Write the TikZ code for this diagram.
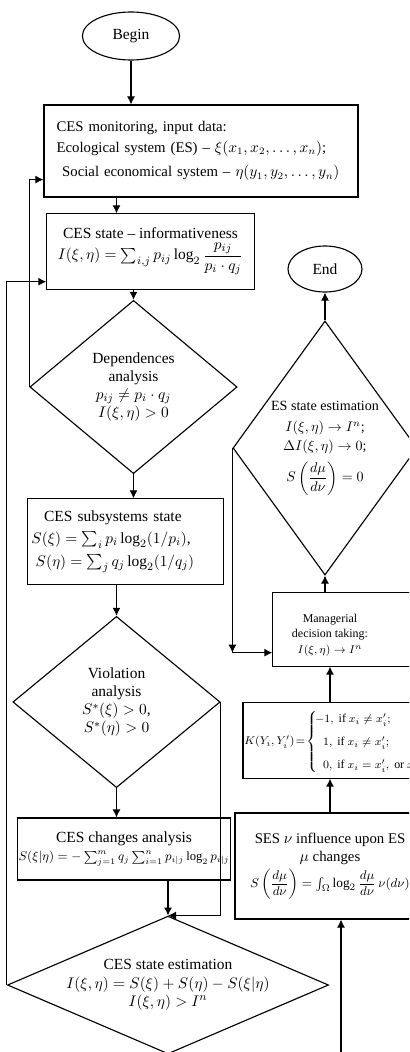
\documentclass[tikz,border=0pt]{standalone}
\usepackage{amsmath}
\usepackage{fontspec}
\setmainfont{Liberation Serif}
\usetikzlibrary{positioning,arrows.meta,shapes.geometric}

\begin{document}
\begin{tikzpicture}[x=0.025cm, y=-0.025cm,
        b/.style={draw, line width=0.8pt, align=center, inner sep=2pt, font=\fontsize{11}{13}\selectfont},
        dia/.style={diamond, draw, line width=0.8pt, align=center, inner sep=0pt, font=\fontsize{11}{13}\selectfont},
        term/.style={ellipse, draw, line width=0.8pt, font=\fontsize{11}{13}\selectfont},
        sm/.style={align=center, font=\fontsize{8.5}{11}\selectfont},
        arr/.style={-{Latex[length=2mm,width=2mm]}, line width=0.8pt}]
      \useasboundingbox (0,0) rectangle (409,1052);
      \clip (0,0) rectangle (409,1052);
      \node[term, minimum width=2.43cm, minimum height=1.2cm] (beg) at (131,36) {Begin};
      \node[b, align=left, minimum width=7.85cm, minimum height=2.3cm, text width=7.5cm, font=\fontsize{10.5}{12.5}\selectfont] (mon) at (201,151) {\hspace*{4pt}CES monitoring, input data:\\[2pt] \hspace*{4pt}Ecological system (ES) -- $\xi(x_1,x_2,\dots,x_n)$;\\[5pt] \hspace*{8pt}Social economical system -- $\eta(y_1,y_2,\dots,y_n)$};
      \node[b, minimum width=5.18cm, minimum height=1.88cm] (st) at (150.5,251.5) {CES state -- informativeness\\[2pt] $I(\xi,\eta)=\sum_{i,j}p_{ij}\log_2\dfrac{p_{ij}}{p_i\cdot q_j}$};
      \node[dia, aspect=1.2, minimum width=5.18cm, minimum height=4.33cm] (dep) at (133.5,387) {Dependences\\analysis\\$p_{ij}\neq p_i\cdot q_j$\\$I(\xi,\eta)>0$};
      \node[b, align=left, minimum width=4.88cm, minimum height=2.13cm, text width=4.7cm] (sub) at (125.5,541.5) {\hspace*{9pt}CES subsystems state\\[3pt] $S(\xi)=\sum_i p_i\log_2(1/p_i)$,\\[3pt] \hspace*{3pt}$S(\eta)=\sum_j q_j\log_2(1/q_j)$};
      \node[dia, aspect=1.2, minimum width=5.18cm, minimum height=4.28cm] (vio) at (116.5,702) {Violation\\analysis\\$S^*(\xi)>0$,\\$S^*(\eta)>0$};
      \node[b, inner xsep=1pt, minimum width=4.7cm, minimum height=1.55cm] (chg) at (124,849) {CES changes analysis\\ {\fontsize{9}{12}\selectfont $S(\xi|\eta)=-\sum_{j=1}^{m}q_j\sum_{i=1}^{n}p_{i|j}\log_2 p_{i|j}$}};
      \node[dia, aspect=2.33, minimum width=7.8cm, minimum height=3.35cm] (est) at (168,985) {CES state estimation\\ $I(\xi,\eta)=S(\xi)+S(\eta)-S(\xi|\eta)$\\ $I(\xi,\eta)>I^n$};
      \node[term, minimum width=1.85cm, minimum height=1.15cm] (fin) at (325,269) {End};
      \node[dia, aspect=0.72, minimum width=4.6cm, minimum height=6.35cm, font=\fontsize{10}{12}\selectfont] (esd) at (325,448) {ES state estimation\\[3pt] $I(\xi,\eta)\to I^n$;\\[2pt] $\Delta I(\xi,\eta)\to 0$;\\[4pt] $S\left(\dfrac{d\mu}{d\nu}\right)=0$};
      \node[b, minimum width=3.68cm, minimum height=1.83cm] (mdt) at (346.5,629.5) {};
      \node[sm] (mdtx) at (330,635) {Managerial\\decision taking:\\$I(\xi,\eta)\to I^n$};
      \node[b, minimum width=4.35cm, minimum height=1.88cm] (kb) at (330,740.5) {};
      \node[sm, anchor=west, inner sep=0pt] (kbx) at (244,742) {$K(Y_i,Y'_i)\!=\!\begin{cases}\!-1,\text{ if } x_i\neq x'_i;\\[3pt] \ \ 1,\text{ if } x_i\neq x'_i;\\[3pt] \ \ 0,\text{ if } x_i=x'_i,\text{ or } x'_i\end{cases}$};
      \node[b, minimum width=4.75cm, minimum height=2.65cm, font=\fontsize{10.5}{13}\selectfont] (ses) at (330,866) {SES $\nu$ influence upon ES\\ $\mu$ changes\\[2pt] {\fontsize{9.5}{12}\selectfont $S\left(\dfrac{d\mu}{d\nu}\right)=\int_{\Omega}\log_2\dfrac{d\mu}{d\nu}\,\nu(d\nu)$}};
      \coordinate (foot) at (341,1060);
      \coordinate (mdtin) at ([yshift=0.35cm]mdt.south west);
      \coordinate (turn) at (esd.west |- mdtin);
      \draw[arr] (beg.south) -- (beg.south |- mon.north);
      \draw[arr] ([xshift=-0.85cm]st.north |- mon.south) -- ([xshift=-0.85cm]st.north);
      \draw[arr] (dep.north |- st.south) -- (dep.north);
      \draw[arr] (dep.south) -- (dep.south |- sub.north);
      \draw[arr] (vio.north |- sub.south) -- (vio.north);
      \draw[arr] (vio.south) -- (vio.south |- chg.north);
      \draw[arr] (est.north |- chg.south) -- (est.north);
      \draw[arr] (vio.east) |- (est.north);
      \draw[arr] (est.west) |- ([yshift=0.2cm]st.south west);
      \draw[arr] (dep.west) |- ([yshift=0.45cm]mon.south west);
      \draw[arr] (esd.north) -- (fin.south);
      \draw[arr] (esd.south |- mdt.north) -- (esd.south);
      \draw[arr] (esd.west) -- (turn);
      \draw[arr] (turn) -- (mdtin);
      \draw[arr] (kb.north) -- (kb.north |- mdt.south);
      \draw[arr] (ses.north) -- (ses.north |- kb.south);
      \draw[arr] (foot) -- (foot |- ses.south);
\end{tikzpicture}
\end{document}
